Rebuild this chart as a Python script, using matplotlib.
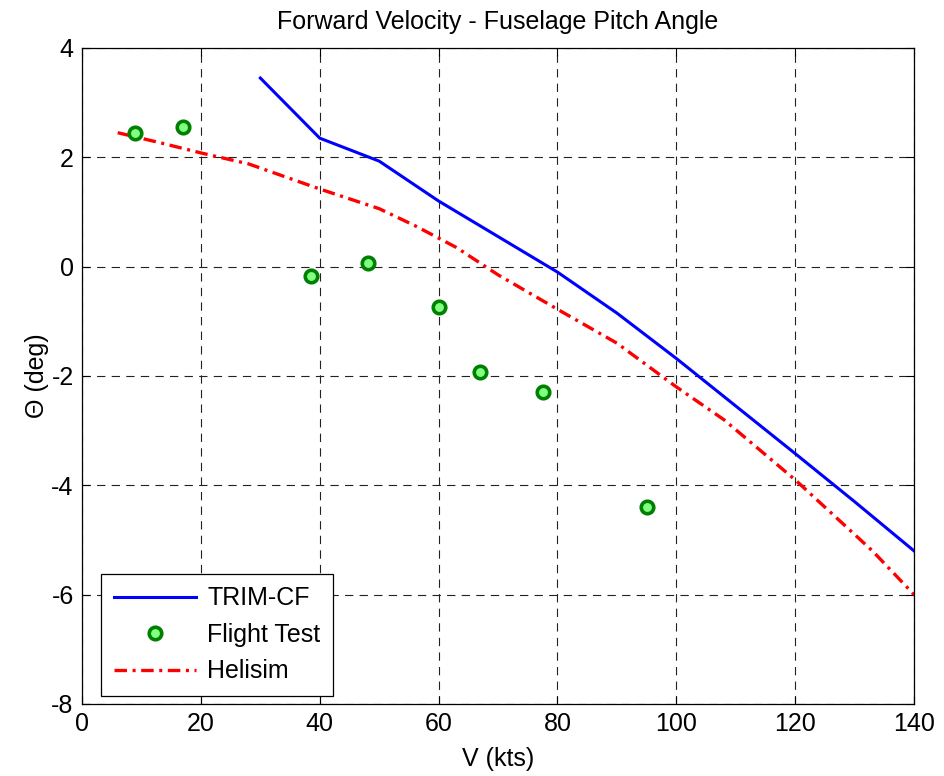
import matplotlib
matplotlib.use('Agg')
import matplotlib.pyplot as plt

# Data
trim_v = [30, 40, 50, 60, 70, 80, 90, 100, 110, 120, 130, 140]
trim_theta = [3.45, 2.35, 1.93, 1.2, 0.55, -0.1, -0.85, -1.68, -2.55, -3.42, -4.3, -5.2]

flight_v = [8.9, 17.0, 38.5, 48.1, 60.1, 67.0, 77.6, 95.1]
flight_theta = [2.45, 2.56, -0.18, 0.07, -0.73, -1.92, -2.29, -4.39]

helisim_v = [6, 13, 20, 28, 40, 50, 56, 63, 70, 80, 90, 100, 108, 120, 133, 140]
helisim_theta = [2.45, 2.27, 2.08, 1.88, 1.42, 1.06, 0.75, 0.35, -0.15, -0.78,
                 -1.4, -2.2, -2.8, -3.9, -5.2, -6.0]

x_ticks = list(range(0, 141, 20))
y_ticks = list(range(-8, 5, 2))

plt.rcParams['font.family'] = ['Liberation Sans', 'DejaVu Sans']
plt.rcParams['axes.unicode_minus'] = False
plt.rcParams['lines.scale_dashes'] = False

fig = plt.figure(figsize=(9.44, 7.76), dpi=100)
fig.patch.set_facecolor('white')
ax = fig.add_axes([0.0869, 0.0928, 0.8814, 0.8454])

ax.plot(trim_v, trim_theta, color='#0000FF', linewidth=2.2, label='TRIM-CF', zorder=3)
ax.plot(flight_v, flight_theta, linestyle='none', marker='o', markersize=9,
        markerfacecolor='#80FF80', markeredgecolor='#008000', markeredgewidth=2.6,
        label='Flight Test', zorder=4)
ax.plot(helisim_v, helisim_theta, color='#FF0000', linewidth=2.4,
        linestyle=(0, (9, 4, 2.2, 4)), label='Helisim', zorder=3)

ax.set_xlim(0, 140)
ax.set_ylim(-8, 4)
ax.set_xticks(x_ticks)
ax.set_yticks(y_ticks)
ax.tick_params(direction='in', top=True, right=True, length=5.5, width=0.8,
               labelsize=18, pad=6)

ax.grid(True, color='#222222', linestyle=(0, (6, 4.5)), linewidth=0.8)
for s in ax.spines.values():
    s.set_linewidth(0.9)
    s.set_color('black')

ax.set_title('Forward Velocity - Fuselage Pitch Angle', fontsize=18, pad=14)
ax.set_xlabel('V (kts)', fontsize=18, labelpad=8)
ax.set_ylabel('\u0398 (deg)', fontsize=18, labelpad=2)

leg = ax.legend(loc='lower left', bbox_to_anchor=(0.0228, 0.0122), borderaxespad=0,
                fontsize=18, fancybox=False, framealpha=1, edgecolor='black',
                handlelength=3.3, handletextpad=0.45, labelspacing=0.5,
                borderpad=0.5)
leg.get_frame().set_linewidth(0.9)

plt.savefig('out.png', dpi=100, facecolor='white')
plt.close()
